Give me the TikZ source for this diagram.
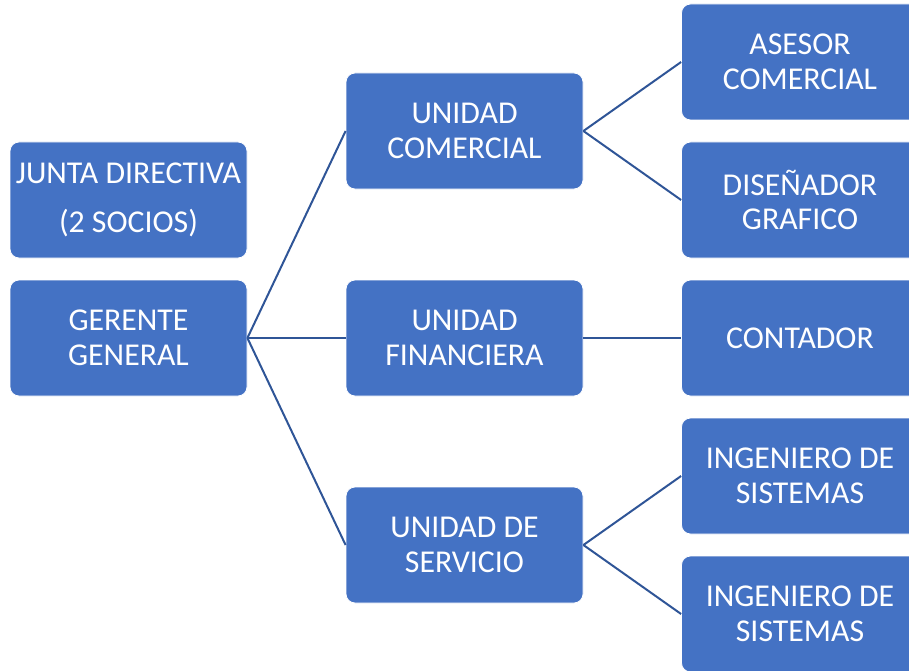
\documentclass[tikz,border=0pt]{standalone}
\usepackage{fontspec}
\setmainfont{Carlito}
\definecolor{azul}{HTML}{4472C4}
\definecolor{azullinea}{HTML}{2F5597}

\begin{document}
\begin{tikzpicture}[x=1pt,y=-1pt,
		caja/.style={rectangle, rounded corners=9pt, fill=azul, draw=white,
			line width=0.8pt, minimum width=237pt, minimum height=116pt,
			inner sep=0pt, text=white, align=center,
			font=\fontsize{31.8}{34.5}\selectfont},
		conector/.style={draw=azullinea, line width=2pt}]

				\useasboundingbox (0,0) rectangle (909,671);

				% primera columna
				\node[caja] (junta) at (128.5,200) {JUNTA DIRECTIVA\\[15pt](2 SOCIOS)};
				\node[caja] (gerente) at (128.5,338) {GERENTE\\GENERAL};

				% unidades
				\node[caja] (comercial) at (464.5,131) {UNIDAD\\COMERCIAL};
				\node[caja] (financiera) at (464.5,338) {UNIDAD\\FINANCIERA};
				\node[caja] (servicio) at (464.5,545) {UNIDAD DE\\SERVICIO};

				% cargos
				\node[caja] (asesor) at (800,62) {ASESOR\\COMERCIAL};
				\node[caja] (disenador) at (800,200) {DISEÑADOR\\GRAFICO};
				\node[caja] (contador) at (800,338) {CONTADOR};
				\node[caja] (ingenieroA) at (800,476) {INGENIERO DE\\SISTEMAS};
				\node[caja] (ingenieroB) at (800,614) {INGENIERO DE\\SISTEMAS};

				\draw[conector] (gerente.east) -- (comercial.west);
				\draw[conector] (gerente.east) -- (financiera.west);
				\draw[conector] (gerente.east) -- (servicio.west);

				\draw[conector] (comercial.east) -- (asesor.west);
				\draw[conector] (comercial.east) -- (disenador.west);
				\draw[conector] (financiera.east) -- (contador.west);
				\draw[conector] (servicio.east) -- (ingenieroA.west);
				\draw[conector] (servicio.east) -- (ingenieroB.west);
\end{tikzpicture}
\end{document}
